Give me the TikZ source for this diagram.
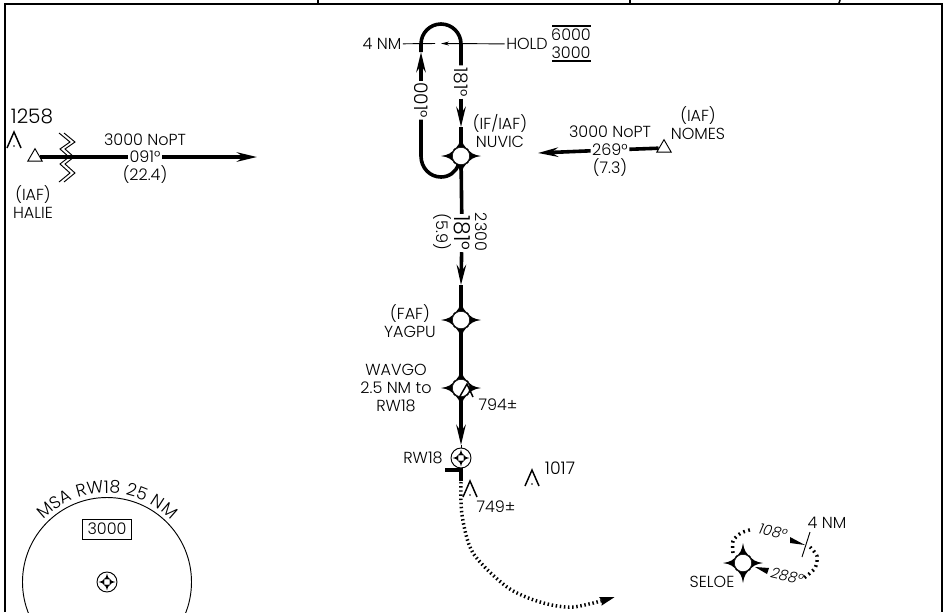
\documentclass[tikz,border=0pt]{standalone}
\usepackage{fontspec}
\setmainfont{Poppins}[UprightFont=* Light,ItalicFont=* Light Italic]
\newfontfamily\msafont{Poppins}[UprightFont=* Light,LetterSpace=5]
\usetikzlibrary{shapes,positioning,calc,arrows.meta,decorations.text}
\tikzset{
    trk/.style={line width=2.7pt},
    thinln/.style={line width=0.7pt},
    dotln/.style={line width=2.6pt,dash pattern=on 1.1pt off 2pt},
    lbl/.style={inner sep=1pt,align=center,font=\fontsize{12}{13.4}\selectfont},
    bigcrs/.style={lbl,font=\fontsize{16.5}{18}\selectfont},
    barb/.style={-{Stealth[length=15pt,width=7pt,inset=5pt]}},
    wpt/.style={circle,draw,line width=0.4pt,fill=white,minimum size=13pt,inner sep=0pt},
    iaf/.style={regular polygon,regular polygon sides=3,draw,line width=0.7pt,fill=white,minimum size=12.5pt,inner sep=0pt},
    arpt/.style={circle,draw,line width=0.7pt,fill=white,minimum size=15pt,inner sep=0pt},
    fixarms/.pic={
        \foreach \r in {0,90,180,270} {
            \fill[rotate=\r] (20,0) .. controls (13,-1) and (9,-3) .. (6,-8) -- (6,8) .. controls (9,3) and (13,1) .. (20,0) -- cycle;
        }
    },
    obst/.pic={
        \draw[line width=1.1pt] (-7,0) -- (0,-16) -- (7,0);
        \fill (0,-2) circle (0.9);
    }
}
\begin{document}
\begin{tikzpicture}[x=0.75pt,y=-0.75pt]
    \clip (0,0) rectangle (943,612);

    % Frame
    \draw[line width=2pt] (5,612) -- (5,4) -- (942,4) -- (942,612);
    \foreach \x in {318,630} {
        \draw[line width=0.8pt] (\x,0) -- (\x,4);
    }
    \draw[line width=1.2pt] (840,0) -- (839,3);

    % Fixes
    \foreach \n/\x/\y in {nuvic/461/156, yagpu/461/320, wavgo/461/388, seloe/743/563} {
        \pic at (\x,\y) {fixarms};
        \node[wpt] (\n) at (\x,\y) {};
    }
    \node[iaf] (halie) at (35,157) {};
    \node[iaf] (nomes) at (664,148) {};
    \node[arpt] (rwy) at (461,458) {};
    \node[arpt] (msapt) at (107,582) {};
    \pic[scale=0.42] at (461,458) {fixarms};
    \pic[scale=0.42] at (107,582) {fixarms};
    \fill[white] (461,458) circle (2.5);
    \fill[white] (107,582) circle (2.5);

    % Obstacles
    \foreach \x/\y in {14/148, 470/497, 532/486} {
        \pic at (\x,\y) {obst};
    }
    \draw[line width=1.1pt] (459,398) -- (467,384) -- (473,397);

    % Course labels
    \node[lbl,font=\fontsize{14}{16}\selectfont,rotate=-90] (crsup) at (461,82) {181°};
    \node[lbl,font=\fontsize{14}{16}\selectfont,rotate=-90] (crsdn) at (421,100) {001°};
    \node[bigcrs,rotate=-90] (crsfinal) at (462,233) {181°};
    \node[lbl,rotate=-90] (alt) at (481,232) {2300};
    \node[lbl,rotate=-90] (dist) at (442,232) {(5.9)};
    \node[lbl] (crshalie) at (145,157) {091°};
    \node[lbl] (althalie) at (145,140) {3000 NoPT};
    \node[lbl] (disthalie) at (145,175) {(22.4)};
    \node[lbl] (crsnomes) at (610,150) {269°};
    \node[lbl] (altnomes) at (610,132) {3000 NoPT};
    \node[lbl] (distnomes) at (610,168) {(7.3)};

    % Names
    \node[lbl] (fourl) at (382,44) {4 NM};
    \node[lbl] (hold) at (527,44) {HOLD};
    \node[lbl] (hia) at (571,35) {6000};
    \node[lbl] (hib) at (571,53) {3000};
    \node[lbl] (nuvicl) at (500,131) {(IF/IAF)\\NUVIC};
    \node[lbl] (nomesl) at (698,123) {(IAF)\\NOMES};
    \node[lbl] (haliel) at (33,202) {(IAF)\\HALIE};
    \node[lbl,font=\fontsize{15}{17}\selectfont] (peak) at (32,116) {1258};
    \node[lbl] (yagpul) at (410,321) {(FAF)\\YAGPU};
    \node[lbl] (wavgol) at (396,388) {WAVGO\\2.5 NM to\\RW18};
    \node[lbl] (wavgoh) at (498,405) {794±};
    \node[lbl] (rwyl) at (423,458) {RW18};
    \node[lbl] (peakb) at (496,507) {749±};
    \node[lbl,font=\fontsize{13}{15}\selectfont] (peakc) at (560,468) {1017};
    \node[lbl] (seloel) at (712,582) {SELOE};
    \node[lbl] (seloed) at (827,523) {4 NM};
    \node[lbl,rotate=-13,font=\itshape\fontsize{11}{13}\selectfont] (seloeo) at (773,532) {108°};
    \node[lbl,rotate=-13,font=\itshape\fontsize{11}{13}\selectfont] (seloei) at (787,576) {288°};

    % Holding pattern
    \coordinate (holdtip) at (421,52);
    \coordinate (inbtip) at (461,127);
    \draw[trk,barb] (crsdn) -- (holdtip);
    \draw[trk] (holdtip) -- (421,44) .. controls (421,33) and (430,24) .. (441,24)
        .. controls (452,24) and (461,33) .. (461,44) -- (crsup);
    \draw[trk,barb] (crsup) -- (inbtip);
    \draw[trk] (inbtip) -- (nuvic);
    \draw[trk] (crsdn) -- (421,156) .. controls (421,168) and (430,177) .. (441,177)
        .. controls (449,177) and (456,172) .. (nuvic);

    % Hold leaders
    \coordinate (fourtip) at (435,43.5);
    \coordinate (holdlead) at (441,43.5);
    \coordinate (ola) at (552,26);
    \coordinate (olb) at (591,26);
    \coordinate (ula) at (552,61);
    \coordinate (ulb) at (591,61);
    \draw[thinln] (fourl) -- (fourtip);
    \draw[thinln,-{Stealth[length=6pt,width=3pt]}] (hold) -- (holdlead);
    \draw[line width=0.8pt] (ola) -- (olb);
    \draw[line width=0.8pt] (ula) -- (ulb);

    % Feeders
    \coordinate (halietip) at (257,157);
    \coordinate (nomestip) at (538,153);
    \draw[trk] (halie) -- (crshalie);
    \draw[trk,barb] (crshalie) -- (halietip);
    \draw[trk] (nomes) -- (crsnomes);
    \draw[trk,barb] (crsnomes) -- (nomestip);

    % Final
    \coordinate (finaltip) at (461,285);
    \coordinate (rwtip) at (461,445);
    \draw[trk] (nuvic) -- (crsfinal);
    \draw[trk,barb] (crsfinal) -- (finaltip);
    \draw[trk] (finaltip) -- (yagpu);
    \draw[trk] (yagpu) -- (wavgo);
    \draw[trk,barb] (wavgo) -- (rwtip);
    \draw[line width=0.7pt] (rwtip) -- (rwy);
    \draw[trk] (rwy) -- (461,481);
    \draw[line width=3pt] (445,470) -- (461,470);

    % Missed approach
    \draw[dotln,-{Stealth[length=11pt,width=6pt,inset=1pt]}] plot[smooth] coordinates {(461,482) (462,515) (473,553) (507,587) (540,602) (573,607) (615,597)};

    % Break symbol
    \foreach \dx in {0,5} {
        \draw[thinln,xshift=\dx*0.75pt] (59,133) -- (70,142) -- (60,149) -- (69,157) -- (60,164) -- (70,173) -- (59,182);
    }

    % Seloe hold
    \coordinate (dma) at (810,532);
    \coordinate (dmb) at (802,557);
    \draw[dotln,dash pattern=on 1.3pt off 2.6pt] plot[smooth] coordinates {(733,553) (733,541) (741,533) (753,529)};
    \draw[dotln,dash pattern=on 1.3pt off 2.6pt] plot[smooth] coordinates {(810,547) (817,556) (815,568) (804,578)};
    \fill (790,537) -- (805,545) -- (790,543) -- cycle;
    \fill (755,567) -- (769,568) -- (767,574) -- cycle;
    \draw[thinln] (dma) -- (dmb);

    % MSA
    \node[draw,line width=0.7pt,minimum width=37pt,minimum height=15pt,inner sep=0pt,font=\fontsize{12}{13}\selectfont] (msabox) at (107,529) {3000};
    \draw[line width=0.7pt] (107,582) circle (84.5);
    \path[decorate,decoration={text along path,text align=center,text={|\msafont\fontsize{13}{15}\selectfont|MSA RW18 25 NM}}]
        (18,582) .. controls (18,533) and (58,493) .. (107,493) .. controls (156,493) and (196,533) .. (196,582);
\end{tikzpicture}
\end{document}
